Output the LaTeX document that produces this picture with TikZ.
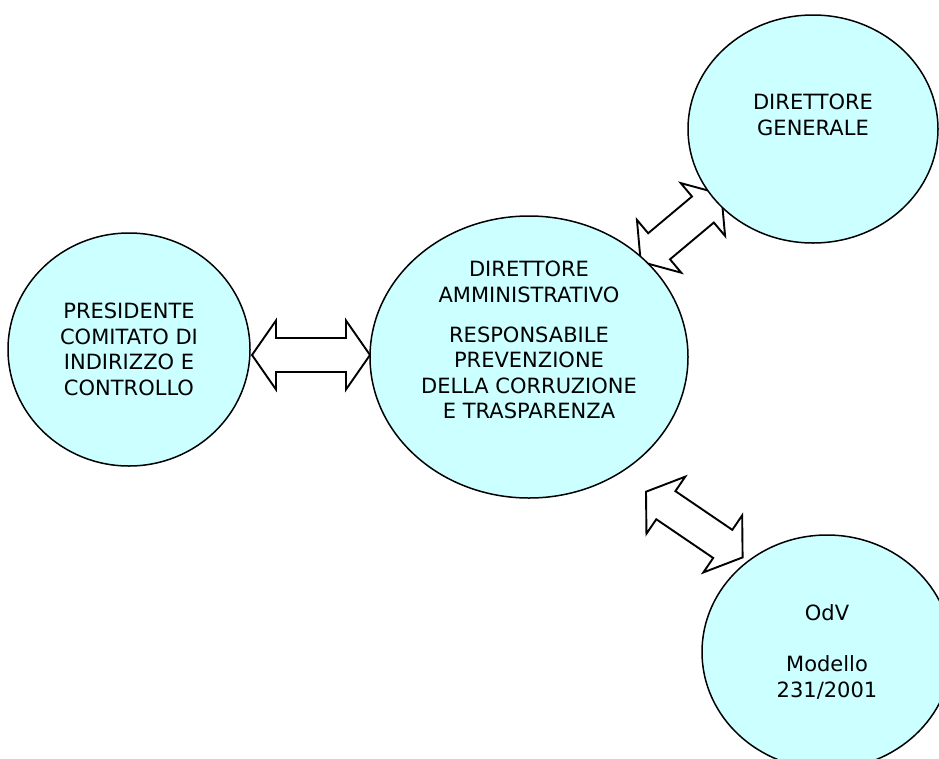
\documentclass[tikz,border=0pt]{standalone}
\usepackage{fontspec}
\setmainfont{DejaVu Sans}
\usetikzlibrary{shapes.geometric,calc,backgrounds}
\definecolor{bubblefill}{HTML}{CCFFFF}
\tikzset{
  bubble/.style={ellipse, draw=black, line width=1.5pt, fill=bubblefill,
    inner sep=0pt, outer sep=0pt, align=center,
    font=\fontsize{21}{25.5}\selectfont, text=black},
  dblarrow/.style={draw=black, fill=white, line width=1.9pt, line join=miter,
    to path={
      -- ($(\tikztostart)!24pt!(\tikztotarget)!34.5pt!90:(\tikztotarget)$)
      -- ($(\tikztostart)!24pt!(\tikztotarget)!17pt!90:(\tikztotarget)$)
      -- ($(\tikztotarget)!24pt!(\tikztostart)!17pt!-90:(\tikztostart)$)
      -- ($(\tikztotarget)!24pt!(\tikztostart)!34.5pt!-90:(\tikztostart)$)
      -- (\tikztotarget)
      -- ($(\tikztotarget)!24pt!(\tikztostart)!34.5pt!90:(\tikztostart)$)
      -- ($(\tikztotarget)!24pt!(\tikztostart)!17pt!90:(\tikztostart)$)
      -- ($(\tikztostart)!24pt!(\tikztotarget)!17pt!-90:(\tikztotarget)$)
      -- ($(\tikztostart)!24pt!(\tikztotarget)!34.5pt!-90:(\tikztotarget)$)
      -- cycle}}
}
\begin{document}
\begin{tikzpicture}[x=1pt,y=-1pt]
  \useasboundingbox (0,0) rectangle (939,758);
  \clip (0,0) rectangle (939,758);

  \node[bubble, minimum width=242pt, minimum height=233pt] (L) at (129,349.5)
    {PRESIDENTE\\COMITATO DI\\INDIRIZZO E\\CONTROLLO};
  \node[bubble, minimum width=318pt, minimum height=282pt] (C) at (529,357)
    {DIRETTORE\\AMMINISTRATIVO\\[14.5pt]RESPONSABILE\\PREVENZIONE\\DELLA CORRUZIONE\\E TRASPARENZA\\[8.5pt]\mbox{}};
  \node[bubble, minimum width=250pt, minimum height=228pt] (G) at (813,129)
    {DIRETTORE\\GENERALE\\[3.5pt]\mbox{}};
  \node[bubble, minimum width=250pt, minimum height=234pt] (O) at (827,652)
    {OdV\\[25.5pt]Modello\\231/2001};

  \coordinate (l1) at ($(L.east)+(2,5.5)$);
  \coordinate (l2) at (C.west |- l1);
  \coordinate (g1) at ($(C)+(111.7,-95.3)$);
  \coordinate (g2) at ($(G)+(-91.7,65.1)$);
  \coordinate (o1) at ($(C)+(117,134.7)$);
  \coordinate (o2) at ($(O)+(-84.4,-94.6)$);

  \begin{pgfonlayer}{background}
    \fill[white] (0,0) rectangle (939,758);
    \draw[dblarrow] (l1) to (l2);
    \draw[dblarrow] (g1) to (g2);
    \draw[dblarrow] (o1) to (o2);
  \end{pgfonlayer}
\end{tikzpicture}
\end{document}
